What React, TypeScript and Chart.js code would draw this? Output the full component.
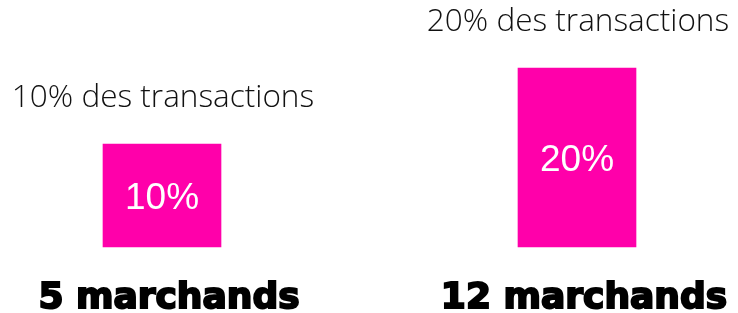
import { useEffect, useRef } from 'react';
import { Chart, registerables } from 'chart.js';

Chart.register(...registerables);

const categories = ['5 marchands', '12 marchands'];
const shares = [10, 20];
const topLabels = ['10% des transactions', '20% des transactions'];
const barLabels = ['10%', '20%'];

const labelPlugin = {
  id: 'barLabels',
  afterDatasetsDraw(chart: any) {
    const ctx = chart.ctx;
    const meta = chart.getDatasetMeta(0);
    meta.data.forEach((bar: any, i: number) => {
      const { x, y, base } = bar.getProps(['x', 'y', 'base'], true);
      ctx.save();
      ctx.textAlign = 'center';
      ctx.textBaseline = 'alphabetic';
      ctx.fillStyle = '#111111';
      ctx.font = '300 31.5px "Open Sans"';
      ctx.fillText(topLabels[i], x + 1, y - 37);
      ctx.fillStyle = '#ffffff';
      ctx.font = '37px "Liberation Sans"';
      ctx.fillText(barLabels[i], x, (y + base) / 2 + 13);
      ctx.restore();
    });
  },
};

export default function App() {
  const ref = useRef<HTMLCanvasElement>(null);
  useEffect(() => {
    document.body.style.margin = '0';
    const chart = new Chart(ref.current as HTMLCanvasElement, {
      type: 'bar',
      data: {
        labels: categories,
        datasets: [
          {
            data: shares,
            backgroundColor: '#ff00aa',
            barThickness: 118,
            base: -3.55,
            clip: false,
          } as any,
        ],
      },
      options: {
        animation: false,
        responsive: true,
        maintainAspectRatio: false,
        layout: { padding: { left: 162, right: 161, top: 0, bottom: 0 } },
        plugins: { legend: { display: false }, tooltip: { enabled: false } },
        scales: {
          x: {
            offset: false,
            grid: { display: false },
            border: { display: false },
            ticks: {
              padding: 22,
              labelOffset: 7,
              color: '#000',
              autoSkip: false,
              maxRotation: 0,
              font: { family: 'DejaVu Sans', weight: 'bold', size: 36 },
              textStrokeWidth: 2,
              textStrokeColor: '#000',
            } as any,
            afterFit: (s: any) => {
              s.height = 66;
              s.paddingLeft = 0;
              s.paddingRight = 0;
            },
          },
          y: { display: false, min: -3.55, max: 28.95 },
        },
      },
      plugins: [labelPlugin],
    });
    return () => chart.destroy();
  }, []);
  return (
    <div style={{ width: 738, height: 313, position: 'relative' }}>
      <canvas ref={ref} />
    </div>
  );
}
